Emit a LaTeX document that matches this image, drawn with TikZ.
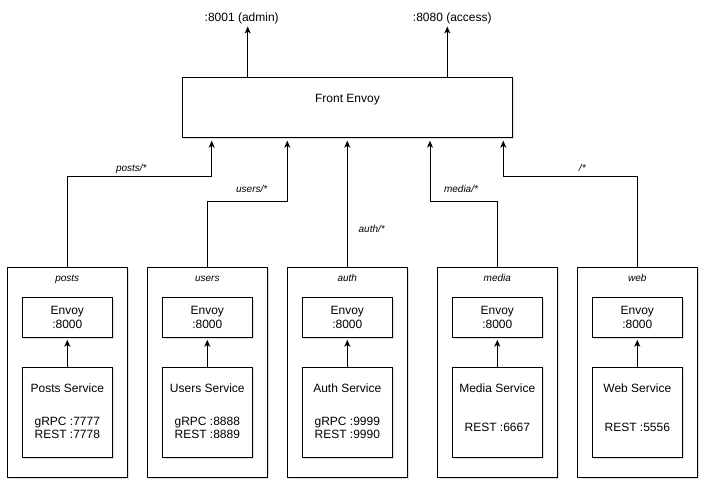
\documentclass[tikz,border=0pt]{standalone}
\usepackage{fontspec}
\setmainfont{Liberation Sans}
\usetikzlibrary{arrows.meta,shadows,calc}
\begin{document}
\begin{tikzpicture}[x=1pt,y=-1pt,
  shad/.style={drop shadow={shadow xshift=1.5pt,shadow yshift=-1.5pt,opacity=0.25,fill=gray}},
  outerbox/.style={draw=black,line width=1pt,fill=white,minimum width=120pt,minimum height=210pt,inner sep=0pt,shad},
  envbox/.style={draw=black,line width=1pt,fill=white,minimum width=90pt,minimum height=40pt,inner sep=0pt,align=center,font=\fontsize{12}{13.6}\selectfont,shad},
  svcbox/.style={draw=black,line width=1pt,fill=white,minimum width=90pt,minimum height=90pt,inner sep=0pt,shad},
  frontbox/.style={draw=black,line width=1pt,fill=white,minimum width=330.4pt,minimum height=60pt,inner sep=0pt,shad},
  txt/.style={font=\fontsize{12}{13.6}\selectfont,inner sep=0pt,text height=8.6pt,text depth=0pt},
  lbl/.style={font=\fontsize{10}{12}\selectfont\itshape,inner sep=0pt,text height=7.2pt,text depth=0pt},
  arr/.style={line width=1pt,-{Stealth[length=7pt,width=6pt,inset=2pt]}}
]
\path[fill=white] (0,0) rectangle (722,503);
\useasboundingbox (0,0) rectangle (722,503);

% front envoy
\node[frontbox] (front) at (347.5,107.3) {};
\node[txt] (fronttxt) at (347.5,97.7) {Front Envoy};
\node[txt] (admin) at (241.7,17.7) {:8001 (admin)};
\node[txt] (access) at (452.3,17.7) {:8080 (access)};
\coordinate (admintip) at (247.7,26.5);
\coordinate (accesstip) at (447.3,26.5);
\draw[arr] (front.north -| admintip) -- (admintip);
\draw[arr] (front.north -| accesstip) -- (accesstip);

% service groups
\foreach \n/\x/\ttl in {posts/67.3/posts,users/207.3/users,auth/347.3/auth,media/497.3/media,web/637.3/web}{
  \node[outerbox] (\n) at (\x,372.3) {};
  \node[lbl] (\n title) at (\x,277.7) {\ttl};
  \node[envbox] (\n env) at (\x,317.3) {Envoy\\:8000};
  \node[svcbox] (\n svc) at (\x,412.3) {};
  \draw[arr,shorten >=2pt] (\n svc.north) -- (\n env.south);
}

% service texts
\node[txt] (postsname) at (67.3,387.7) {Posts Service};
\node[txt] (postsg) at (67.3,420.7) {gRPC :7777};
\node[txt] (postsr) at (67.3,434.3) {REST :7778};
\node[txt] (usersname) at (207.3,387.7) {Users Service};
\node[txt] (usersg) at (207.3,420.7) {gRPC :8888};
\node[txt] (usersr) at (207.3,434.3) {REST :8889};
\node[txt] (authname) at (347.3,387.7) {Auth Service};
\node[txt] (authg) at (347.3,420.7) {gRPC :9999};
\node[txt] (authr) at (347.3,434.3) {REST :9990};
\node[txt] (medianame) at (497.3,387.7) {Media Service};
\node[txt] (mediar) at (497.3,427.3) {REST :6667};
\node[txt] (webname) at (637.3,387.7) {Web Service};
\node[txt] (webr) at (637.3,427.3) {REST :5556};

% routes into front envoy
\coordinate (inposts) at (211.7,140.7);
\coordinate (inusers) at (287.3,140.7);
\coordinate (inauth) at (347.3,140.7);
\coordinate (inmedia) at (430,140.7);
\coordinate (inweb) at (503.3,140.7);
\draw[arr] (posts.north) -- ++(0,-90) -| (inposts);
\draw[arr] (users.north) -- ++(0,-65.3) -| (inusers);
\draw[arr] (auth.north) -- (inauth);
\draw[arr] (media.north) -- ++(0,-65.3) -| (inmedia);
\draw[arr] (web.north) -- ++(0,-90) -| (inweb);

\node[lbl] (lposts) at (131.3,168.3) {posts/*};
\node[lbl] (lusers) at (251.7,188.7) {users/*};
\node[lbl] (lauth) at (371.7,228.7) {auth/*};
\node[lbl] (lmedia) at (461,189) {media/*};
\node[lbl] (lweb) at (582.3,168.3) {/*};
\end{tikzpicture}
\end{document}
